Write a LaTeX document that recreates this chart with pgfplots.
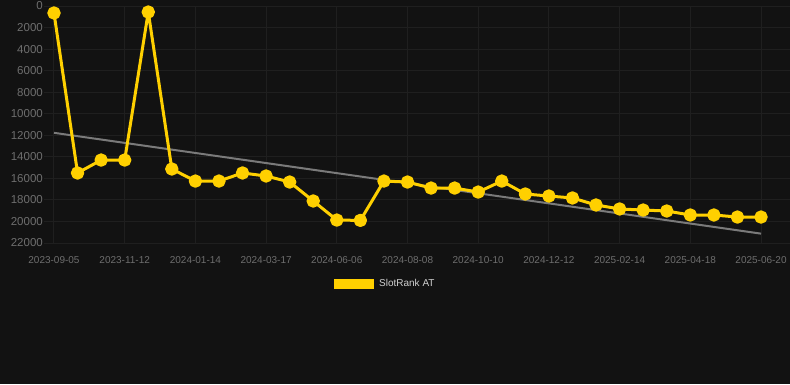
\documentclass[border=0pt]{standalone}
\usepackage{fontspec}
\setmainfont{Liberation Sans}
\usepackage{pgfplots}
\pgfplotsset{compat=1.18}
\definecolor{bg}{HTML}{121212}
\definecolor{gridc}{HTML}{1F1F1F}
\definecolor{tickc}{HTML}{6E6E6E}
\definecolor{gold}{HTML}{FFD000}
\definecolor{trend}{HTML}{7A7A7A}
\definecolor{legtext}{HTML}{D0D0D0}
\begin{document}
\begin{tikzpicture}
\fill[bg] (0pt,0pt) rectangle (790pt,-384pt);
\begin{axis}[
  at={(44pt,-6pt)}, anchor=north west,
  scale only axis, width=746pt, height=237pt,
  xmin=-0.424, xmax=31.23, ymin=0, ymax=22000, y dir=reverse,
  axis line style={draw=none},
  xtick={0,3,...,30},
  xticklabels={2023-09-05,2023-11-12,2024-01-14,2024-03-17,2024-06-06,2024-08-08,2024-10-10,2024-12-12,2025-02-14,2025-04-18,2025-06-20},
  ytick={0,2000,...,22000},
  grid=major, major grid style={gridc, line width=1pt},
  tick style={draw=none},
  /pgf/number format/assume math mode=true,
  /pgf/number format/set thousands separator={},
  scaled y ticks=false,
  yticklabel style={font=\fontsize{11.5}{13}\selectfont, text=tickc, inner sep=0pt, anchor=east, xshift=-1pt},
  xticklabel style={font=\fontsize{10}{12}\selectfont, text=tickc, inner sep=0pt, anchor=north, yshift=-13pt},
  clip=false,
  legend style={at={(0.3887,-0.173)}, anchor=west, draw=none, fill=none, inner sep=0pt,
    font=\fontsize{10}{12}\selectfont, text=legtext},
  legend image code/.code={\path[fill=gold, draw=none, sharp corners, line width=0pt] (0pt,-5.3pt) rectangle (40pt,5.3pt); \path (41.5pt,0pt);},
]
\addplot[trend, line width=2pt, forget plot] coordinates {(0,11770) (30,21130)};
\addplot[gold, line width=3pt, line join=round, mark=*, mark size=5.2pt, mark options={fill=gold, draw=none}] coordinates {
(0,650) (1,15500) (2,14300) (3,14300) (4,560) (5,15130) (6,16250) (7,16250) (8,15500) (9,15780)
(10,16340) (11,18100) (12,19870) (13,19900) (14,16250) (15,16340) (16,16900) (17,16900) (18,17270) (19,16250)
(20,17450) (21,17640) (22,17820) (23,18470) (24,18840) (25,18940) (26,19030) (27,19400) (28,19400) (29,19590) (30,19590)
};
\addlegendentry{SlotRank AT}
\end{axis}
\pgfresetboundingbox
\path (0pt,0pt) rectangle (790pt,-384pt);
\end{tikzpicture}
\end{document}
